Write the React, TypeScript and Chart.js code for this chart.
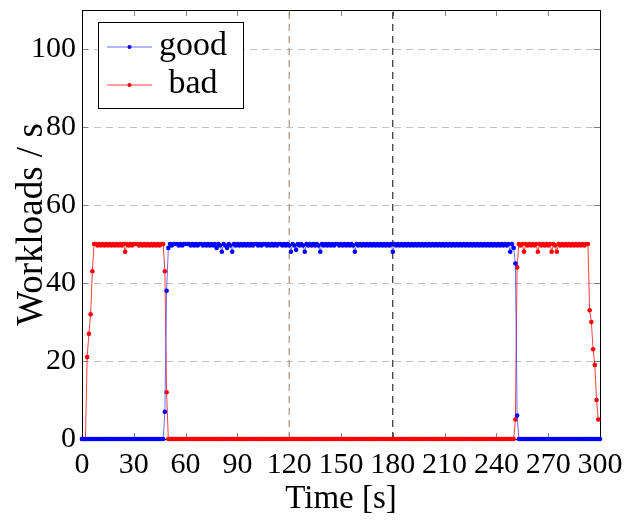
import React, { useEffect, useRef } from "react";
import { Chart, registerables } from "chart.js";

Chart.register(...registerables);

const TIMES = [
  0, 1, 2, 3, 4, 5, 6, 7, 8, 9, 10, 11, 12, 13, 14, 15, 16, 17, 18, 19,
  20, 21, 22, 23, 24, 25, 26, 27, 28, 29, 30, 31, 32, 33, 34, 35, 36, 37, 38, 39,
  40, 41, 42, 43, 44, 45, 46, 47, 48, 49, 50, 51, 52, 53, 54, 55, 56, 57, 58, 59,
  60, 61, 62, 63, 64, 65, 66, 67, 68, 69, 70, 71, 72, 73, 74, 75, 76, 77, 78, 79,
  80, 81, 82, 83, 84, 85, 86, 87, 88, 89, 90, 91, 92, 93, 94, 95, 96, 97, 98, 99,
  100, 101, 102, 103, 104, 105, 106, 107, 108, 109, 110, 111, 112, 113, 114, 115, 116, 117, 118, 119,
  120, 121, 122, 123, 124, 125, 126, 127, 128, 129, 130, 131, 132, 133, 134, 135, 136, 137, 138, 139,
  140, 141, 142, 143, 144, 145, 146, 147, 148, 149, 150, 151, 152, 153, 154, 155, 156, 157, 158, 159,
  160, 161, 162, 163, 164, 165, 166, 167, 168, 169, 170, 171, 172, 173, 174, 175, 176, 177, 178, 179,
  180, 181, 182, 183, 184, 185, 186, 187, 188, 189, 190, 191, 192, 193, 194, 195, 196, 197, 198, 199,
  200, 201, 202, 203, 204, 205, 206, 207, 208, 209, 210, 211, 212, 213, 214, 215, 216, 217, 218, 219,
  220, 221, 222, 223, 224, 225, 226, 227, 228, 229, 230, 231, 232, 233, 234, 235, 236, 237, 238, 239,
  240, 241, 242, 243, 244, 245, 246, 247, 248, 249, 250, 251, 252, 253, 254, 255, 256, 257, 258, 259,
  260, 261, 262, 263, 264, 265, 266, 267, 268, 269, 270, 271, 272, 273, 274, 275, 276, 277, 278, 279,
  280, 281, 282, 283, 284, 285, 286, 287, 288, 289, 290, 291, 292, 293, 294, 295, 296, 297, 298, 299,
  300,
];

const GOOD = [
  0, 0, 0, 0, 0, 0, 0, 0, 0, 0, 0, 0, 0, 0, 0, 0, 0, 0, 0, 0,
  0, 0, 0, 0, 0, 0, 0, 0, 0, 0, 0, 0, 0, 0, 0, 0, 0, 0, 0, 0,
  0, 0, 0, 0, 0, 0, 0, 0, 7, 38, 49,
  50, 49.6, 50, 50, 50, 49.6, 50, 49.6, 50, 50,
  50, 50, 49.6, 50, 49.6, 50, 49.6, 50, 50, 49.6,
  50, 49.6, 50, 49.6, 50, 49.6, 50, 49, 50, 49.6,
  48, 50, 49.6, 49, 50, 49.6, 48, 50, 49.6, 50,
  49.6, 50, 49.6, 50, 49.6, 50, 49.6, 50, 49.6, 50,
  50, 49.6, 50, 49.6, 50, 50, 49.6, 50, 49.6, 50,
  49.6, 50, 49.6, 50, 50, 49.6, 50, 49.6, 50, 49.6,
  48, 50, 49.6, 48.5, 50, 49.6, 50, 49.6, 48, 50,
  49.6, 50, 49.6, 50, 49.6, 50, 49.6, 48, 50, 49.6,
  50, 49.6, 50, 49.6, 50, 49.6, 50, 50, 49.6, 50,
  49.6, 50, 49.6, 50, 49.6, 50, 49.6, 48, 50, 49.6,
  50, 49.6, 50, 49.6, 50, 49.6, 50, 49.6, 50, 49.6,
  50, 49.6, 50, 49.6, 50, 49.6, 50, 49.6, 50, 48,
  50, 49.6, 50, 49.6, 50, 49.6, 50, 49.6, 50, 49.6,
  50, 49.6, 50, 49.6, 50, 49.6, 50, 49.6, 50, 49.6,
  50, 49.6, 50, 49.6, 50, 49.6, 50, 49.6, 50, 49.6,
  50, 49.6, 50, 49.6, 50, 49.6, 50, 49.6, 50, 49.6,
  50, 49.6, 50, 49.6, 50, 49.6, 50, 49.6, 50, 49.6,
  50, 49.6, 50, 49.6, 50, 49.6, 50, 49.6, 50, 49.6,
  50, 49.6, 50, 49.6, 50, 49.6, 50, 48, 50, 49,
  45, 6,
  0, 0, 0, 0, 0, 0, 0, 0, 0, 0, 0, 0, 0, 0, 0, 0, 0, 0, 0, 0,
  0, 0, 0, 0, 0, 0, 0, 0, 0, 0, 0, 0, 0, 0, 0, 0, 0, 0, 0, 0,
  0, 0, 0, 0, 0, 0, 0, 0,
];

const BAD = [
  0, 0, 0, 21, 27, 32, 43, 50,
  50, 49.6, 50, 49.6, 50, 49.6, 50, 49.6, 50, 49.6,
  50, 49.6, 50, 49.6, 50, 49.6, 50, 48, 50, 49.6,
  50, 49.6, 50, 50, 50, 49.6, 50, 49.6, 50, 49.6,
  50, 49.6, 50, 49.6, 50, 49.6, 50, 49.6, 50, 50,
  43, 12, 0,
  0, 0, 0, 0, 0, 0, 0, 0, 0, 0, 0, 0, 0, 0, 0, 0, 0, 0, 0, 0,
  0, 0, 0, 0, 0, 0, 0, 0, 0, 0, 0, 0, 0, 0, 0, 0, 0, 0, 0, 0,
  0, 0, 0, 0, 0, 0, 0, 0, 0, 0, 0, 0, 0, 0, 0, 0, 0, 0, 0, 0,
  0, 0, 0, 0, 0, 0, 0, 0, 0, 0, 0, 0, 0, 0, 0, 0, 0, 0, 0, 0,
  0, 0, 0, 0, 0, 0, 0, 0, 0, 0, 0, 0, 0, 0, 0, 0, 0, 0, 0, 0,
  0, 0, 0, 0, 0, 0, 0, 0, 0, 0, 0, 0, 0, 0, 0, 0, 0, 0, 0, 0,
  0, 0, 0, 0, 0, 0, 0, 0, 0, 0, 0, 0, 0, 0, 0, 0, 0, 0, 0, 0,
  0, 0, 0, 0, 0, 0, 0, 0, 0, 0, 0, 0, 0, 0, 0, 0, 0, 0, 0, 0,
  0, 0, 0, 0, 0, 0, 0, 0, 0, 0, 0, 0, 0, 0, 0, 0, 0, 0, 0, 0,
  0, 0, 0, 0, 0, 0, 0, 0, 0, 0, 0, 0, 0, 0, 0, 0, 0, 0, 0, 0,
  5, 44, 50,
  49.6, 50, 48, 50, 49.6, 50, 49.6, 50, 49.6, 50,
  48, 50, 49.6, 50, 49.6, 50, 49.6, 50, 48, 50,
  49.6, 48, 50, 49.6, 50, 49.6, 50, 49.6, 50, 49.6,
  50, 49.6, 50, 49.6, 50, 49.6, 50, 49.6, 50, 50,
  33, 30, 23, 19, 10, 5, null,
];

const X_TICKS = [0, 30, 60, 90, 120, 150, 180, 210, 240, 270, 300];
const Y_TICKS = [0, 20, 40, 60, 80, 100];
const MARKER_TIMES = [120, 180];
const MARKER_COLORS = ["#9a7a66", "#000000"];
const SERIES_LABELS = ["good", "bad"];
const SERIES_POINT_COLORS = ["#0000ff", "#ff0000"];
const SERIES_LINE_COLORS = ["rgba(60,60,255,0.75)", "rgba(255,30,30,0.85)"];

const FONT = "'Liberation Serif', 'Times New Roman', serif";

const framePlugin = {
  id: "frameGrid",
  beforeDatasetsDraw(chart: any) {
    const { ctx, chartArea: a, scales } = chart;
    const xs = scales.x;
    const ys = scales.y;
    ctx.save();
    ctx.lineWidth = 1;
    ctx.strokeStyle = "#c0c0c0";
    ctx.setLineDash([7, 5]);
    Y_TICKS.forEach((v) => {
      if (v === 0) return;
      const py = Math.round(ys.getPixelForValue(v)) + 0.5;
      ctx.beginPath();
      ctx.moveTo(a.left, py);
      ctx.lineTo(a.right, py);
      ctx.stroke();
    });
    ctx.setLineDash([]);
    ctx.strokeStyle = "#808080";
    const tl = 6;
    X_TICKS.forEach((v) => {
      const px = Math.round(xs.getPixelForValue(v)) + 0.5;
      ctx.beginPath();
      ctx.moveTo(px, a.bottom);
      ctx.lineTo(px, a.bottom - tl);
      ctx.moveTo(px, a.top);
      ctx.lineTo(px, a.top + tl);
      ctx.stroke();
    });
    Y_TICKS.forEach((v) => {
      const py = Math.round(ys.getPixelForValue(v)) + 0.5;
      ctx.beginPath();
      ctx.moveTo(a.left, py);
      ctx.lineTo(a.left + tl, py);
      ctx.moveTo(a.right, py);
      ctx.lineTo(a.right - tl, py);
      ctx.stroke();
    });
    ctx.strokeStyle = "#000000";
    ctx.strokeRect(
      Math.round(a.left) + 0.5,
      Math.round(a.top) + 0.5,
      Math.round(a.right - a.left),
      Math.round(a.bottom - a.top)
    );
    ctx.restore();
  },
};

const legendPlugin = {
  id: "insideLegend",
  afterDraw(chart: any) {
    const { ctx, chartArea: a } = chart;
    const bx = a.left + 16;
    const by = a.top + 12;
    const bw = 145;
    const bh = 86;
    ctx.save();
    ctx.fillStyle = "#ffffff";
    ctx.fillRect(bx, by, bw, bh);
    ctx.strokeStyle = "#000000";
    ctx.lineWidth = 1;
    ctx.strokeRect(bx + 0.5, by + 0.5, bw, bh);
    SERIES_LABELS.forEach((label, i) => {
      const cy = by + 25 + i * 38;
      ctx.strokeStyle = SERIES_LINE_COLORS[i];
      ctx.lineWidth = 1.2;
      ctx.beginPath();
      ctx.moveTo(bx + 9, cy);
      ctx.lineTo(bx + 54, cy);
      ctx.stroke();
      ctx.fillStyle = SERIES_POINT_COLORS[i];
      ctx.beginPath();
      ctx.arc(bx + 31.5, cy, 2, 0, Math.PI * 2);
      ctx.fill();
      ctx.fillStyle = "#000000";
      ctx.font = `34px ${FONT}`;
      ctx.textAlign = "center";
      ctx.textBaseline = "alphabetic";
      ctx.fillText(label, bx + 95, cy + 8);
    });
    ctx.restore();
  },
};

export default function App() {
  const ref = useRef<HTMLCanvasElement | null>(null);

  useEffect(() => {
    if (!ref.current) return;
    const seriesSets = [GOOD, BAD].map((vals, i) => ({
      label: SERIES_LABELS[i],
      data: TIMES.map((t, j) => ({ x: t, y: vals[j] })),
      borderColor: SERIES_LINE_COLORS[i],
      backgroundColor: SERIES_POINT_COLORS[i],
      pointBackgroundColor: SERIES_POINT_COLORS[i],
      pointBorderColor: SERIES_POINT_COLORS[i],
      pointRadius: 2.3,
      pointBorderWidth: 0,
      borderWidth: 1,
      tension: 0,
      clip: 5,
      order: i,
    }));
    const markerSets = MARKER_TIMES.map((t, i) => ({
      label: "",
      data: [
        { x: t, y: 0 },
        { x: t, y: 110 },
      ],
      borderColor: MARKER_COLORS[i],
      borderDash: [7, 5],
      borderWidth: 1,
      pointRadius: 0,
      order: 5,
    }));

    const chart = new Chart(ref.current, {
      type: "line",
      data: { datasets: [...seriesSets, ...markerSets] as any },
      plugins: [framePlugin, legendPlugin],
      options: {
        animation: false,
        responsive: false,
        maintainAspectRatio: false,
        devicePixelRatio: 1,
        layout: { padding: { top: 10, right: 25, left: 0, bottom: 0 } },
        plugins: {
          legend: { display: false },
          tooltip: { enabled: false },
        },
        scales: {
          x: {
            type: "linear",
            min: 0,
            max: 300,
            grid: { display: false, drawTicks: false },
            border: { display: false },
            afterBuildTicks: (s: any) => {
              s.ticks = X_TICKS.map((v) => ({ value: v }));
            },
            afterFit: (s: any) => {
              s.height = 83;
              s.paddingLeft = 0;
              s.paddingRight = 0;
            },
            ticks: {
              autoSkip: false,
              maxRotation: 0,
              minRotation: 0,
              padding: 8,
              color: "#000000",
              font: { family: FONT, size: 30 },
            },
            title: {
              display: true,
              text: "Time [s]",
              color: "#000000",
              font: { family: FONT, size: 33 },
              padding: { top: 0, bottom: 3 },
            },
          },
          y: {
            type: "linear",
            min: 0,
            max: 110,
            grid: { display: false, drawTicks: false },
            border: { display: false },
            afterBuildTicks: (s: any) => {
              s.ticks = Y_TICKS.map((v) => ({ value: v }));
            },
            afterFit: (s: any) => {
              s.width = 82;
              s.paddingTop = 0;
              s.paddingBottom = 0;
            },
            ticks: {
              padding: 6,
              color: "#000000",
              font: { family: FONT, size: 30 },
            },
            title: {
              display: true,
              text: "Workloads / s",
              color: "#000000",
              font: { family: FONT, size: 37 },
              padding: { top: 10, bottom: 0 },
            },
          },
        },
      } as any,
    });
    return () => chart.destroy();
  }, []);

  return (
    <div style={{ position: "fixed", left: 0, top: 0, width: 625, height: 522, background: "#fff" }}>
      <canvas ref={ref} width={625} height={522} style={{ display: "block" }} />
    </div>
  );
}
